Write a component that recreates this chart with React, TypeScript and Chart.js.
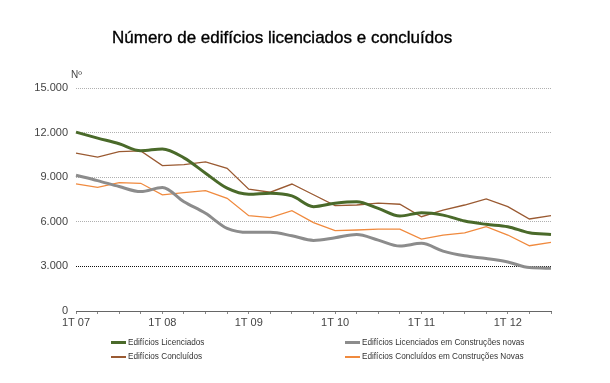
import React, { useEffect, useRef } from "react";
import { Chart, registerables } from "chart.js";

Chart.register(...registerables);

const quarters = [
  "1T 07", "2T 07", "3T 07", "4T 07",
  "1T 08", "2T 08", "3T 08", "4T 08",
  "1T 09", "2T 09", "3T 09", "4T 09",
  "1T 10", "2T 10", "3T 10", "4T 10",
  "1T 11", "2T 11", "3T 11", "4T 11",
  "1T 12", "2T 12", "3T 12",
];

const licenciados = [12030, 11630, 11250, 10780, 10900, 10300, 9270, 8260, 7850, 7920, 7740, 7020, 7250, 7350, 6900, 6390, 6610, 6450, 6050, 5830, 5670, 5260, 5150];
const licenciadosNovas = [9130, 8770, 8370, 8030, 8300, 7350, 6570, 5560, 5290, 5290, 5060, 4750, 4930, 5150, 4770, 4370, 4550, 4030, 3710, 3530, 3300, 2920, 2880];
const concluidos = [10620, 10350, 10720, 10770, 9780, 9850, 10030, 9600, 8190, 7990, 8540, 7820, 7090, 7130, 7250, 7180, 6340, 6790, 7130, 7540, 7020, 6190, 6410];
const concluidosNovas = [8550, 8320, 8640, 8590, 7810, 7960, 8100, 7580, 6410, 6280, 6750, 5950, 5400, 5450, 5510, 5510, 4840, 5110, 5260, 5670, 5110, 4390, 4610];

const yTicks = [0, 3000, 6000, 9000, 12000, 15000];

const seriesNames = [
  "Edifícios Licenciados",
  "Edifícios Licenciados em Construções novas",
  "Edifícios Concluídos",
  "Edifícios Concluídos em Construções Novas",
];
const seriesColors = ["#4a6a2a", "#8c8c8c", "#9a5a32", "#f08a3e"];
const seriesWidths = [3, 3, 1.3, 1.3];

const fmt = (v: number) => {
  const s = String(Math.round(v));
  return s.replace(/\B(?=(\d{3})+(?!\d))/g, ".");
};

export default function App() {
  const ref = useRef<HTMLCanvasElement | null>(null);

  useEffect(() => {
    if (!ref.current) return;
    const values = [licenciados, licenciadosNovas, concluidos, concluidosNovas];
    const chart = new Chart(ref.current, {
      type: "line",
      data: {
        labels: quarters,
        datasets: values.map((d, i) => ({
          label: seriesNames[i],
          data: d,
          borderColor: seriesColors[i],
          backgroundColor: seriesColors[i],
          borderWidth: seriesWidths[i],
          pointRadius: 0,
          fill: false,
          tension: i < 2 ? 0.4 : 0,
          cubicInterpolationMode: i < 2 ? "monotone" : "default",
        })) as any,
      },
      options: {
        animation: false,
        responsive: false,
        devicePixelRatio: 1,
        layout: { padding: { left: 0, right: 59, top: 88, bottom: 52 } },
        plugins: {
          legend: { display: false },
          title: { display: false },
          tooltip: { enabled: false },
        },
        scales: {
          x: {
            type: "category",
            offset: false,
            afterFit: (s: any) => {
              s.height = 20;
            },
            border: { display: true, color: "#666", width: 1 },
            grid: {
              drawOnChartArea: false,
              drawTicks: true,
              tickLength: 3,
              color: "#888",
            },
            ticks: {
              autoSkip: false,
              maxRotation: 0,
              padding: 2,
              color: "#444",
              font: { family: "'Liberation Sans', Arial, sans-serif", size: 11 },
              callback: (_v: any, i: number) => (i % 4 === 0 ? quarters[i] : ""),
            },
          },
          y: {
            min: 0,
            max: 15000,
            afterFit: (s: any) => {
              s.width = 76;
            },
            afterBuildTicks: (s: any) => {
              s.ticks = yTicks.map((v) => ({ value: v }));
            },
            border: { display: false, dash: [1, 1] },
            grid: {
              drawTicks: false,
              lineWidth: 1,
              color: (c: any) =>
                c.tick && c.tick.value === 3000
                  ? "#111"
                  : c.tick && c.tick.value === 0
                  ? "rgba(0,0,0,0)"
                  : "#b0b0b0",
            },
            ticks: {
              padding: 8,
              color: "#444",
              font: { family: "'Liberation Sans', Arial, sans-serif", size: 11 },
              callback: (v: any) => fmt(Number(v)),
            },
          },
        },
      },
    });
    return () => chart.destroy();
  }, []);

  const legendPos = [
    { left: 111, top: 337 },
    { left: 345, top: 337 },
    { left: 111, top: 351 },
    { left: 345, top: 351 },
  ];

  return (
    <div
      style={{
        position: "fixed",
        left: 0,
        top: 0,
        width: 610,
        height: 383,
        background: "#fff",
        overflow: "hidden",
        fontFamily: "'Liberation Sans', Arial, sans-serif",
      }}
    >
      <canvas ref={ref} width={610} height={383} style={{ position: "absolute", left: 0, top: 0, width: 610, height: 383 }} />
      <div
        style={{
          position: "absolute",
          left: 112,
          top: 28,
          fontSize: 17,
          lineHeight: "19px",
          color: "#000",
          whiteSpace: "nowrap",
          WebkitTextStroke: "0.35px #000",
        }}
      >
        Número de edifícios licenciados e concluídos
      </div>
      <div
        style={{
          position: "absolute",
          left: 71,
          top: 70,
          fontSize: 10,
          lineHeight: "10px",
          color: "#444",
        }}
      >
        Nº
      </div>
      {seriesNames.map((name, i) => (
        <div
          key={name}
          style={{
            position: "absolute",
            left: legendPos[i].left,
            top: legendPos[i].top,
            height: 11,
            display: "flex",
            alignItems: "center",
            whiteSpace: "nowrap",
          }}
        >
          <span
            style={{
              display: "inline-block",
              width: 15,
              height: i < 2 ? 3 : 2,
              background: seriesColors[i],
              marginRight: 2,
            }}
          />
          <span style={{ fontSize: 8.2, color: "#333", lineHeight: "11px" }}>{name}</span>
        </div>
      ))}
    </div>
  );
}
